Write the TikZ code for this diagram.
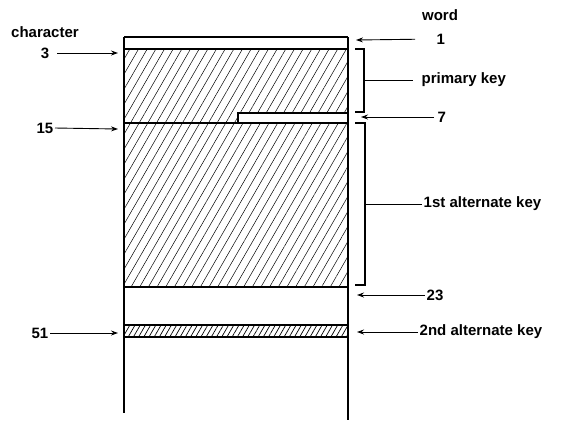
\documentclass[tikz,border=0pt]{standalone}
\usepackage{fontspec}
\setmainfont{Liberation Sans}
\usetikzlibrary{patterns.meta,arrows.meta}

\begin{document}
\begin{tikzpicture}[x=1pt, y=-1pt, font=\fontsize{15}{17}\selectfont\bfseries, every node/.style={inner sep=1.5pt}, >={Stealth[length=7pt,width=5pt]},
  hatch/.style={pattern={Lines[angle=60,distance=7.5pt,line width=0.5pt]}},
  finehatch/.style={pattern={Lines[angle=60,distance=4.5pt,line width=0.7pt]}},
  wall/.style={line width=1.6pt}, arr/.style={->, line width=0.9pt}, brace/.style={line width=1.5pt}]
\useasboundingbox (0,0) rectangle (580,424);
% record layout
\fill[hatch] (124,49) -- (348,49) -- (348,113) -- (238,113) -- (238,123) -- (124,123) -- cycle;
\fill[hatch] (124,123) rectangle (348,287);
\fill[finehatch] (124,325) rectangle (348,337);
\draw[wall] (124,37) -- (348,37); \draw[wall] (124,49) -- (348,49);
\draw[wall] (238,123) -- (238,113) -- (348,113);
\draw[wall] (124,123) -- (348,123); \draw[wall] (124,287) -- (348,287);
\draw[wall] (124,325) -- (348,325); \draw[wall] (124,337) -- (348,337);
\draw[line width=1.3pt] (124,37) -- (124,413); \draw[line width=1.3pt] (348,37) -- (348,420);
% character offsets
\node (chr) at (45,32) {character};
\node[anchor=east] (c3) at (51,53) {3};
\node[anchor=east] (c15) at (55,128) {15};
\node[anchor=east] (c51) at (50,333) {51};
\coordinate (p3) at (118,53); \coordinate (p15) at (118,129); \coordinate (p51) at (118,333);
\draw[arr, shorten <=6pt] (c3.east) -- (p3); \draw[arr] (c15.east) -- (p15); \draw[arr] (c51.east) -- (p51);
% word offsets and keys
\node (wrd) at (440,15) {word};
\node[anchor=west] (w1) at (435,39) {1};
\node[anchor=west] (w7) at (436,117) {7};
\node[anchor=west] (w23) at (425,295) {23};
\node[anchor=west] (pk) at (420,80) {primary key};
\node[anchor=west] (ak1) at (422,204) {1st alternate key};
\node[anchor=west] (ak2) at (418,332) {2nd alternate key};
\coordinate (q1) at (356,40); \coordinate (q7) at (361,117); \coordinate (q23) at (357,295); \coordinate (q2) at (357,332);
\draw[arr, shorten <=20pt] (w1.west) -- (q1); \draw[arr, shorten <=2pt] (w7.west) -- (q7);
\draw[arr] (w23.west) -- (q23); \draw[arr] (ak2.west) -- (q2);
\draw[brace] (355,49) -- (364,49) -- (364,112) -- (355,112); \draw[line width=1pt, shorten >=7pt] (364,80) -- (pk.west);
\draw[brace] (355,123) -- (365,123) -- (365,285) -- (355,285); \draw[line width=1pt] (365,204) -- (ak1.west);
\end{tikzpicture}
\end{document}
